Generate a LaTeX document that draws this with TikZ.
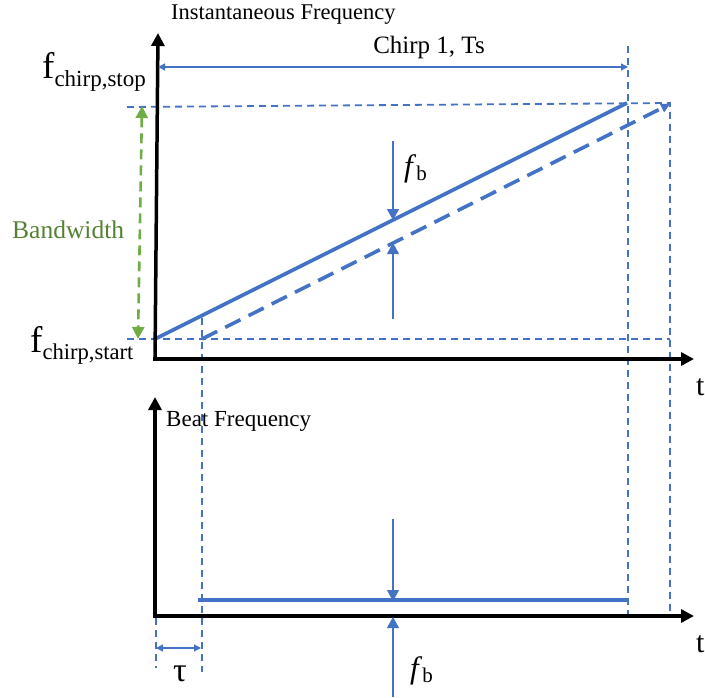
\documentclass[tikz,border=0pt]{standalone}
\usepackage{fontspec}
\setmainfont{Liberation Serif}
\usetikzlibrary{arrows.meta}
\definecolor{cblue}{HTML}{4472C4}
\definecolor{cgreen}{HTML}{70AD47}
\definecolor{cgreentext}{HTML}{548235}
\newcommand{\fsz}[1]{\fontsize{#1}{#1}\selectfont}
\begin{document}
\begin{tikzpicture}[x=1pt,y=-1pt,
  axis/.style={line width=3.5pt,-{Triangle[length=13pt,width=13pt]}},
  thindash/.style={cblue,line width=1.8pt,dash pattern=on 7pt off 5pt},
  chirp/.style={cblue,line width=3.6pt},
  chirpdash/.style={cblue,line width=3.6pt,dash pattern=on 17pt off 9pt},
  fbarrow/.style={cblue,line width=1.3pt,-{Triangle[length=11pt,width=12pt]}},
  dimarrow/.style={cblue,line width=1.3pt,{Triangle[length=7pt,width=7pt]}-{Triangle[length=7pt,width=7pt]}},
  lbl/.style={inner sep=0pt,text=black}]
\useasboundingbox (0,0) rectangle (705,697);

% ---------- coordinates ----------
\coordinate (o1) at (155,359);
\coordinate (ytop) at (158,33);
\coordinate (xend1) at (694,359);
\coordinate (o2) at (155,616);
\coordinate (ytop2) at (155,397);
\coordinate (xend2) at (694,616);

\coordinate (s0) at (155,339);
\coordinate (s1) at (627,103);
\coordinate (d0) at (202,339);
\coordinate (d1) at (670,104);

\coordinate (hstartL) at (127,339);
\coordinate (hstartR) at (670,339);
\coordinate (hstopL) at (127,107);
\coordinate (hstopR) at (670,103);

\coordinate (vTsTop) at (628,46);
\coordinate (vTsBot) at (628,616);
\coordinate (vRBot) at (670,616);
\coordinate (vtauTop) at (202,318);
\coordinate (vtauBot) at (202,672);
\coordinate (v0Top) at (156,618);
\coordinate (v0Bot) at (156,668);

\coordinate (tsL) at (158,67);
\coordinate (tsR) at (628,67);
\coordinate (bwTop) at (142,106);
\coordinate (bwBot) at (138,339);

\coordinate (fbTopStart) at (393,141);
\coordinate (fbTopEnd) at (393,220);
\coordinate (fbMidStart) at (393,319);
\coordinate (fbMidEnd) at (393,243);
\coordinate (fbBotStart) at (393,519);
\coordinate (fbBotEnd) at (393,601);
\coordinate (fbLowStart) at (393,697);
\coordinate (fbLowEnd) at (393,617);

\coordinate (beatL) at (198,600);
\coordinate (beatR) at (629,600);
\coordinate (tauL) at (156,648);
\coordinate (tauR) at (201,648);

% ---------- thin dashed guides ----------
\draw[thindash] (hstopL) -- (hstopR) -- (vRBot);
\draw[thindash] (hstartL) -- (hstartR);
\draw[thindash] (vTsTop) -- (vTsBot);
\draw[thindash] (vtauTop) -- (vtauBot);
\draw[thindash] (v0Top) -- (v0Bot);

% ---------- chirps ----------
\draw[chirp] (s0) -- (s1);
\draw[chirpdash,-{Triangle[length=9pt,width=9pt]}] (d0) -- (d1);

% ---------- axes ----------
\draw[axis] (o1) -- (ytop);
\draw[axis] ([xshift=-1.75pt]o1) -- (xend1);
\draw[axis] (o2) -- (ytop2);
\draw[axis] ([xshift=-1.75pt]o2) -- (xend2);

% ---------- beat ----------
\draw[chirp,line width=3.4pt] (beatL) -- (beatR);

% ---------- dimension arrows ----------
\draw[dimarrow] (tsL) -- (tsR);
\draw[dimarrow] (tauL) -- (tauR);
\draw[cgreen,line width=2.6pt,dash pattern=on 10pt off 6pt,
  {Triangle[length=12pt,width=12pt]}-{Triangle[length=12pt,width=12pt]}] (bwTop) -- (bwBot);

\draw[fbarrow] (fbTopStart) -- (fbTopEnd);
\draw[fbarrow] (fbMidStart) -- (fbMidEnd);
\draw[fbarrow] (fbBotStart) -- (fbBotEnd);
\draw[fbarrow] (fbLowStart) -- (fbLowEnd);

% ---------- labels ----------
\node[lbl,anchor=west] (instlbl) at (171,15) {\fsz{22.5}Instantaneous Frequency};
\node[lbl] (chirplbl) at (429,47) {\fsz{25}Chirp 1, Ts};
\node[lbl,anchor=base west] (fstop) at (42,78) {\fsz{37}f\raisebox{-8pt}{\fsz{23}chirp,stop}};
\node[lbl,anchor=base west] (fstart) at (30,352) {\fsz{37}f\raisebox{-7pt}{\fsz{22.6}chirp,start}};
\node[lbl,anchor=west,text=cgreentext] (bwlbl) at (12,230) {\fsz{25.5}Bandwidth};
\node[lbl,anchor=west] (beatlbl) at (166,421) {\fsz{23}Beat Frequency};
\node[lbl,anchor=base west] (t1) at (696,395) {\fsz{30}t};
\node[lbl,anchor=base west] (t2) at (696,652) {\fsz{30}t};
\node[lbl,anchor=base west] (fb1) at (404,176) {\fsz{31}\textit{f}\raisebox{-4pt}{\fsz{21}b}};
\node[lbl,anchor=base west] (fb2) at (410,678) {\fsz{31}\textit{f}\raisebox{-4pt}{\fsz{21}b}};
\node[lbl,anchor=base] (taulbl) at (180,681) {\fsz{34}τ};
\end{tikzpicture}
\end{document}
